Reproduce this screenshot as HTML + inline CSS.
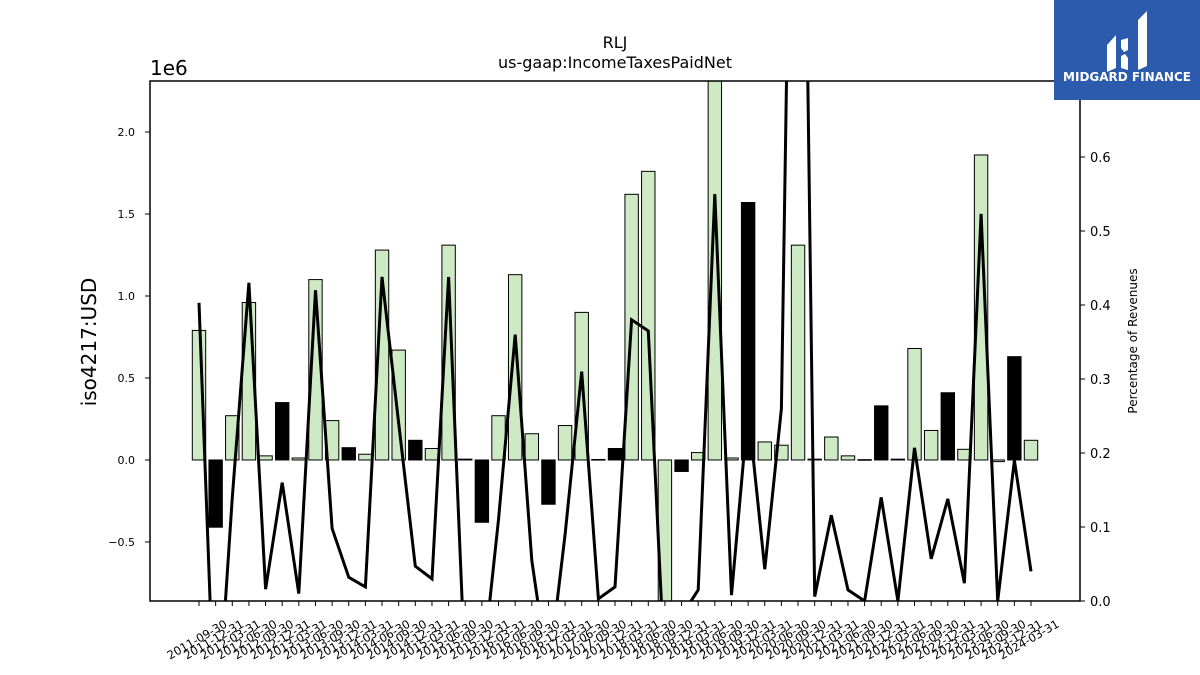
<!DOCTYPE html>
<html><head><meta charset="utf-8"><style>
body{margin:0;background:#fff;overflow:hidden;}
svg{display:block;font-family:"DejaVu Sans","Liberation Sans",sans-serif;}
</style></head><body>
<svg id="chart" width="1200" height="675" xmlns="http://www.w3.org/2000/svg">
<rect width="1200" height="675" fill="#fff"/>
<text x="615" y="48" text-anchor="middle" font-size="16">RLJ</text>
<text x="615" y="68" text-anchor="middle" font-size="16">us-gaap:IncomeTaxesPaidNet</text>
<text x="150" y="75" font-size="20">1e6</text>
<text transform="translate(96,342) rotate(-90)" text-anchor="middle" font-size="20">iso4217:USD</text>
<text transform="translate(1137,341) rotate(-90)" text-anchor="middle" font-size="12">Percentage of Revenues</text>
<defs><clipPath id="pc"><rect x="150" y="81" width="930" height="520"/></clipPath></defs>
<g id="bars" clip-path="url(#pc)"></g>
<g id="line" clip-path="url(#pc)"></g>
<g id="axes"></g>
<rect x="150" y="81" width="930" height="520" fill="none" stroke="#000" stroke-width="1.5"/>
<g>
<rect x="1054" y="0" width="146" height="100" fill="#2c5aad"/>
<path d="M1107 45 L1116 35 L1116 68 L1107 72 Z M1121 40 L1128 38 L1128 50 L1124 52 L1121 48 Z M1121 56 L1125 54 L1128 58 L1128 70 L1121 68 Z M1138 20 L1147 11 L1147 66 L1138 70 Z" fill="#fff"/>
<text x="1127" y="81" text-anchor="middle" font-size="12" font-weight="bold" fill="#fff">MIDGARD FINANCE</text>
</g>
</svg>
<script>
const categories=["2011-09-30","2011-12-31","2012-03-31","2012-06-30","2012-09-30","2012-12-31","2013-03-31","2013-06-30","2013-09-30","2013-12-31","2014-03-31","2014-06-30","2014-09-30","2014-12-31","2015-03-31","2015-06-30","2015-09-30","2015-12-31","2016-03-31","2016-06-30","2016-09-30","2016-12-31","2017-03-31","2017-06-30","2017-09-30","2017-12-31","2018-03-31","2018-06-30","2018-09-30","2018-12-31","2019-03-31","2019-06-30","2019-09-30","2019-12-31","2020-03-31","2020-06-30","2020-09-30","2020-12-31","2021-03-31","2021-06-30","2021-09-30","2021-12-31","2022-03-31","2022-06-30","2022-09-30","2022-12-31","2023-03-31","2023-06-30","2023-09-30","2023-12-31","2024-03-31"];
const taxValues=[0.79,-0.41,0.27,0.96,0.025,0.35,0.012,1.10,0.24,0.075,0.035,1.28,0.67,0.12,0.07,1.31,0.005,-0.38,0.27,1.13,0.16,-0.27,0.21,0.90,0.003,0.07,1.62,1.76,-1.0,-0.07,0.045,2.5,0.012,1.57,0.11,0.09,1.31,0.005,0.14,0.025,0.002,0.33,0.005,0.68,0.18,0.41,0.065,1.86,-0.01,0.63,0.12];
const barIsDark=[0,1,0,0,0,1,0,0,0,1,0,0,0,1,0,0,1,1,0,0,0,1,0,0,0,1,0,0,0,1,0,0,0,1,0,0,0,1,0,0,0,1,1,0,0,1,0,0,0,1,0];
const pctRevenue=[0.403,-0.2,0.14,0.43,0.016,0.16,0.01,0.42,0.098,0.032,0.019,0.438,0.24,0.047,0.03,0.438,-0.1,-0.1,0.11,0.36,0.055,-0.1,0.09,0.31,0.003,0.019,0.38,0.365,-0.1,-0.02,0.015,0.55,0.008,0.26,0.043,0.26,1.7,0.006,0.116,0.015,0.0,0.14,0.0,0.207,0.057,0.138,0.024,0.523,0.0,0.19,0.04];
const leftTicks=[-0.5,0,0.5,1.0,1.5,2.0];
const leftTickLabels=["−0.5","0.0","0.5","1.0","1.5","2.0"];
const rightTicks=[0,0.1,0.2,0.3,0.4,0.5,0.6];
const rightTickLabels=["0.0","0.1","0.2","0.3","0.4","0.5","0.6"];

const NS="http://www.w3.org/2000/svg";
const X0=150,X1=1080,Y0=81,Y1=601;
const yMin=-0.86,yMax=2.311, rMin=0, rMax=0.7027;
function xPos(i){return 199+i*((1031-199)/(categories.length-1));}
function yL(v){return Y1-(v-yMin)/(yMax-yMin)*(Y1-Y0);}
function yR(v){return Y1-(v-rMin)/(rMax-rMin)*(Y1-Y0);}
function mk(tag,attrs,parent){const e=document.createElementNS(NS,tag);for(const k in attrs)e.setAttribute(k,attrs[k]);parent.appendChild(e);return e;}
const bars=document.getElementById('bars'),line=document.getElementById('line'),axes=document.getElementById('axes');
const bw=13.4;
taxValues.forEach((v,i)=>{
  const y0=yL(0),y1=yL(v);
  const r=mk('rect',{x:xPos(i)-bw/2,y:Math.min(y0,y1),width:bw,height:Math.max(Math.abs(y1-y0),0.6),fill:barIsDark[i]?'#000':'#cdeac5',stroke:'#000','stroke-width':1},bars);
  
  
});
const pts=pctRevenue.map((v,i)=>xPos(i).toFixed(1)+','+yR(v).toFixed(1)).join(' ');
const pl=mk('polyline',{points:pts,fill:'none',stroke:'#000','stroke-width':3,'stroke-linejoin':'miter'},line);


leftTicks.forEach((t,k)=>{
  const y=yL(t);
  mk('line',{x1:X0-5,x2:X0,y1:y,y2:y,stroke:'#000'},axes);
  const tx=mk('text',{x:X0-15,y:y+4,'text-anchor':'end','font-size':11},axes);
  tx.textContent=leftTickLabels[k];
  
  
});
rightTicks.forEach((t,k)=>{
  const y=yR(t);
  mk('line',{x1:X1,x2:X1+5,y1:y,y2:y,stroke:'#000'},axes);
  const tx=mk('text',{x:X1+10,y:y+5,'font-size':13},axes);
  tx.textContent=rightTickLabels[k];
  
  
});
categories.forEach((c,i)=>{
  const x=xPos(i);
  mk('line',{x1:x,x2:x,y1:Y1,y2:Y1+5,stroke:'#000'},axes);
  const tx=mk('text',{transform:`translate(${x},${Y1+42}) rotate(-30)`,'text-anchor':'middle','font-size':11.5},axes);
  tx.textContent=c;
  
  
});
</script>
</body></html>
